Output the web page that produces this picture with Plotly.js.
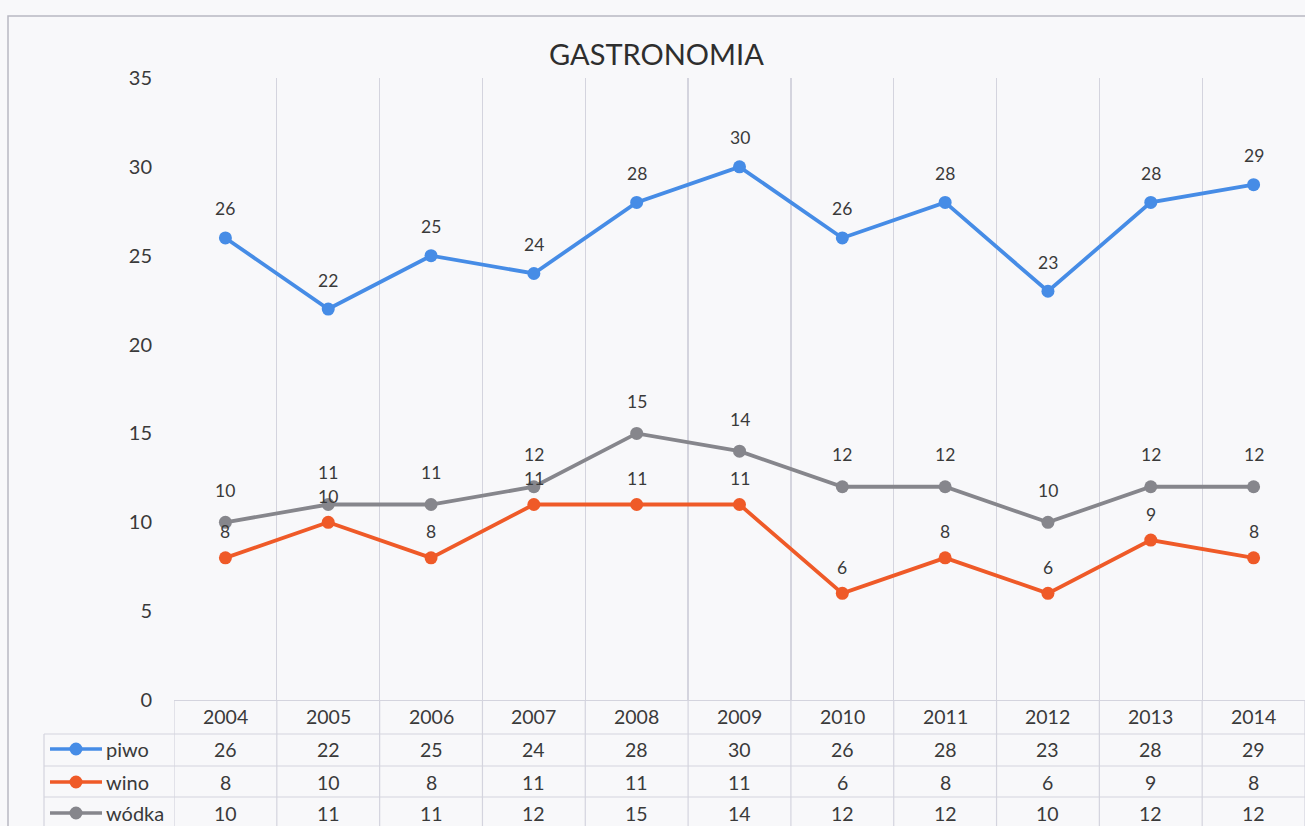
<!DOCTYPE html>
<html>
<head>
<meta charset="utf-8">
<script src="https://cdn.plot.ly/plotly-3.0.1.min.js"></script>
<style>
  html, body { margin: 0; padding: 0; background: #f3f3f5; }
  #chart { width: 1305px; height: 826px; }
</style>
</head>
<body>
<div id="chart"></div>
<script>
// ---- data ----
const years = ['2004','2005','2006','2007','2008','2009','2010','2011','2012','2013','2014'];
const piwo  = [26, 22, 25, 24, 28, 30, 26, 28, 23, 28, 29];
const wino  = [8, 10, 8, 11, 11, 11, 6, 8, 6, 9, 8];
const wodka = [10, 11, 11, 12, 15, 14, 12, 12, 10, 12, 12];
const seriesNames = ['piwo', 'wino', 'wódka'];
const yTicks = [0, 5, 10, 15, 20, 25, 30, 35];
const chartTitle = 'GASTRONOMIA';

const colors = ['#468ce6', '#ef5a28', '#86868c'];
const labelShift = [29, 26, 32];
const seriesData = [piwo, wino, wodka];
const FONT = 'Lato, "Open Sans", sans-serif';
const TXT = '#3a3a3a';

// geometry helpers (pixel -> paper)
const W = 1305, H = 826, L = 174, R = 0, T = 78, B = 126;
const pw = W - L - R, ph = H - T - B;
const px = x => (x - L) / pw;
const py = y => (H - B - y) / ph;

const traces = seriesData.map((d, i) => ({
  type: 'scatter',
  mode: 'lines+markers',
  x: years,
  y: d,
  name: seriesNames[i],
  line: { color: colors[i], width: 3.8 },
  marker: { color: colors[i], size: 13 },
  cliponaxis: false,
  showlegend: false,
  hoverinfo: 'skip'
}));

const gridCol = '#d4d4de';
const shapes = [];
const annotations = [];

// data labels above the points
seriesData.forEach((d, s) => d.forEach((v, c) => annotations.push({
  xref: 'x', yref: 'y', x: c, y: v, yshift: labelShift[s], yanchor: 'middle',
  text: String(v), showarrow: false, font: { family: FONT, size: 17.5, color: TXT } })));

// outer chart frame
shapes.push({ type: 'rect', xref: 'paper', yref: 'paper',
  x0: px(8), x1: px(1320), y0: py(840), y1: py(16),
  line: { color: '#b8b8c2', width: 1.5 }, fillcolor: 'rgba(0,0,0,0)', layer: 'below' });

// table rows (pixel y values)
const rowLinesY = [734, 766, 797, 829];
const rowTextY = [749, 782, 813];
const yearTextY = 716;

rowLinesY.forEach(y => shapes.push({ type: 'line', xref: 'paper', yref: 'paper',
  x0: px(44), x1: px(1320), y0: py(y), y1: py(y), line: { color: gridCol, width: 1.2 } }));
shapes.push({ type: 'line', xref: 'paper', yref: 'paper',
  x0: px(44), x1: px(44), y0: py(734), y1: py(840), line: { color: gridCol, width: 1.2 } });
for (let i = 0; i <= years.length; i++) {
  shapes.push({ type: 'line', xref: 'x', yref: 'paper',
    x0: i - 0.5, x1: i - 0.5, y0: 0, y1: py(840), line: { color: gridCol, width: 1.2 } });
}

// year header texts
years.forEach((yr, c) => annotations.push({ xref: 'x', yref: 'paper', x: c, y: py(yearTextY),
  yanchor: 'middle', text: yr, showarrow: false, font: { family: FONT, size: 19.5, color: TXT } }));

// values + legend keys
seriesData.forEach((d, r) => {
  const yc = py(rowTextY[r]);
  d.forEach((v, c) => annotations.push({ xref: 'x', yref: 'paper', x: c, y: yc, yanchor: 'middle',
    text: String(v), showarrow: false, font: { family: FONT, size: 19.5, color: TXT } }));
  shapes.push({ type: 'line', xref: 'paper', yref: 'paper', x0: px(50), x1: px(102), y0: yc, y1: yc,
    line: { color: colors[r], width: 3.5 } });
  shapes.push({ type: 'circle', xref: 'paper', yref: 'paper', xsizemode: 'pixel', ysizemode: 'pixel',
    xanchor: px(76), yanchor: yc, x0: -6.5, x1: 6.5, y0: -6.5, y1: 6.5,
    fillcolor: colors[r], line: { color: colors[r], width: 0 } });
  annotations.push({ xref: 'paper', yref: 'paper', x: px(104), y: yc, xanchor: 'left', yanchor: 'middle',
    text: seriesNames[r], showarrow: false, font: { family: FONT, size: 20, color: TXT } });
});

const layout = {
  width: W, height: H,
  paper_bgcolor: '#f8f8fa',
  plot_bgcolor: 'rgba(0,0,0,0)',
  margin: { l: L, r: R, t: T, b: B, pad: 0 },
  title: { text: chartTitle, x: 0.503, xanchor: 'center', y: 1 - 55 / H, yanchor: 'middle',
    font: { family: FONT, size: 29, color: '#2e2e2e' } },
  xaxis: {
    type: 'category',
    range: [-0.5, years.length - 0.5],
    tickson: 'boundaries',
    showgrid: true, gridcolor: gridCol, gridwidth: 1.2,
    showticklabels: false, ticks: '',
    showline: true, linecolor: gridCol, linewidth: 1.2,
    zeroline: false, fixedrange: true
  },
  yaxis: {
    range: [0, 35],
    tickvals: yTicks,
    ticktext: yTicks.map(String),
    showgrid: false, zeroline: false, showline: false, ticks: '',
    ticklabelstandoff: 21,
    tickfont: { family: FONT, size: 20, color: TXT },
    fixedrange: true
  },
  shapes: shapes,
  annotations: annotations,
  showlegend: false
};

Plotly.newPlot('chart', traces, layout, { displayModeBar: false, staticPlot: true });
</script>
</body>
</html>
